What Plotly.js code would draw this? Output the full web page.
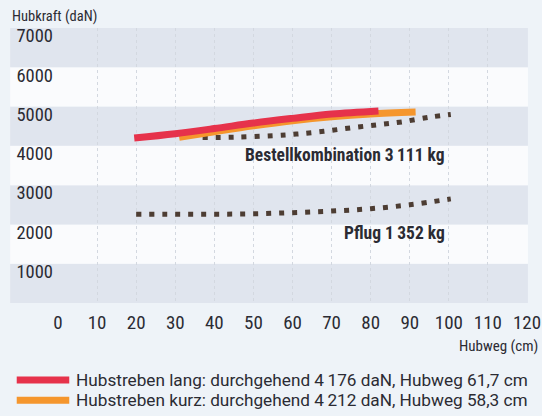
<!DOCTYPE html>
<html><head><meta charset="utf-8">
<script src="https://cdn.plot.ly/plotly-3.0.1.min.js"></script>
<style>html,body{margin:0;padding:0;background:#eef3f8;}</style>
</head><body><div id="chart" style="width:542px;height:416px;"></div>
<script>
// Data
const redX = [19.5, 30, 40, 50, 60, 70, 82];
const redY = [4400, 4510, 4640, 4780, 4900, 5010, 5090];
const orangeX = [31, 40, 50, 60, 70, 80, 91.5];
const orangeY = [4420, 4560, 4710, 4840, 4940, 5010, 5060];
const bestellX = [37, 45, 55, 61, 68, 75, 82, 88, 95, 100.5];
const bestellY = [4410, 4420, 4460, 4500, 4570, 4660, 4740, 4810, 4930, 5000];
const pflugX = [20, 30, 40, 50, 60, 70, 80, 90, 100.5];
const pflugY = [2460, 2460, 2460, 2470, 2500, 2540, 2600, 2700, 2850];
const yTickVals = [1000, 2000, 3000, 4000, 5000, 6000, 7000];
const xTickVals = [0, 10, 20, 30, 40, 50, 60, 70, 80, 90, 100, 110, 120];
const bandStarts = [200, 1200, 2200, 3200, 4200, 5200, 6200];
const legendLabels = [
  "Hubstreben lang: durchgehend 4\u2009176 daN, Hubweg 61,7 cm",
  "Hubstreben kurz: durchgehend 4\u2009212 daN, Hubweg 58,3 cm"
];
const seriesLabels = ["Bestellkombination 3\u2009111 kg", "Pflug 1\u2009352 kg"];

const RED = '#e6324b', ORANGE = '#f5962d', BROWN = '#4d3d33';
const FONT = '"Liberation Sans Narrow", "Roboto Condensed", "Arial Narrow", "Liberation Sans", sans-serif';
const LFONT = 'Roboto, "Liberation Sans", sans-serif';
const TXT = '#2b2b33';

const traces = [
  {x: pflugX, y: pflugY, mode: 'lines', line: {color: BROWN, width: 5, dash: '5px,8px', shape: 'spline'}, showlegend: false, hoverinfo: 'skip'},
  {x: bestellX, y: bestellY, mode: 'lines', line: {color: BROWN, width: 5, dash: '5px,8px', shape: 'spline'}, showlegend: false, hoverinfo: 'skip'},
  {x: orangeX, y: orangeY, mode: 'lines', line: {color: ORANGE, width: 7, shape: 'spline'}, showlegend: false, hoverinfo: 'skip'},
  {x: redX, y: redY, mode: 'lines', line: {color: RED, width: 7, shape: 'spline'}, showlegend: false, hoverinfo: 'skip'}
];

const shapes = bandStarts.map((b, i) => ({
  type: 'rect', xref: 'paper', yref: 'y', x0: -0.102, x1: 1.002, y0: b, y1: b + 1000,
  fillcolor: i % 2 === 0 ? '#e0e5ee' : '#fafbfd', line: {width: 0}, layer: 'below'
}));
const legColors = [RED, ORANGE];
const legY = [-0.28, -0.354];
legColors.forEach((c, i) => shapes.push({
  type: 'line', xref: 'paper', yref: 'paper', x0: -0.088, x1: 0.024, y0: legY[i], y1: legY[i],
  line: {color: c, width: 7}
}));

const annotations = [
  {text: 'Hubkraft (daN)', xref: 'paper', yref: 'paper', x: -0.102, y: 1.043, xanchor: 'left', yanchor: 'middle', showarrow: false, font: {family: FONT, size: 14.5, color: TXT}},
  {text: 'Hubweg (cm)', xref: 'paper', yref: 'paper', x: 1.028, y: -0.158, xanchor: 'right', yanchor: 'middle', showarrow: false, font: {family: FONT, size: 15, color: TXT}},
  {text: '<b>' + seriesLabels[0] + '</b>', xref: 'x', yref: 'y', x: 99.5, y: 3974, xanchor: 'right', yanchor: 'middle', showarrow: false, font: {family: FONT, size: 17.5, color: TXT}},
  {text: '<b>' + seriesLabels[1] + '</b>', xref: 'x', yref: 'y', x: 99.5, y: 1991, xanchor: 'right', yanchor: 'middle', showarrow: false, font: {family: FONT, size: 17.5, color: TXT}}
];
legendLabels.forEach((t, i) => annotations.push({
  text: t, xref: 'paper', yref: 'paper', x: 0.034, y: legY[i], xanchor: 'left', yanchor: 'middle', showarrow: false,
  font: {family: LFONT, size: 17.2, color: TXT}
}));

const layout = {
  width: 542, height: 416,
  margin: {l: 58, r: 15, t: 28, b: 112.6, pad: 0},
  paper_bgcolor: '#eef3f8', plot_bgcolor: 'rgba(0,0,0,0)',
  font: {family: FONT, color: TXT, size: 18},
  xaxis: {range: [0, 120], tickvals: xTickVals, ticks: '', showgrid: true, gridcolor: '#d3d8e0', griddash: 'dot', gridwidth: 1,
    zeroline: false, showline: false, tickfont: {family: FONT, size: 19, color: TXT}, ticklabelstandoff: 6, fixedrange: true},
  yaxis: {range: [200, 7200], tickvals: yTickVals, ticks: '', showgrid: false, zeroline: false, showline: false,
    tickfont: {family: FONT, size: 18.5, color: TXT}, ticklabelstandoff: 4, fixedrange: true},
  shapes: shapes, annotations: annotations, showlegend: false
};
Plotly.newPlot('chart', traces, layout, {displayModeBar: false, staticPlot: true});
</script></body></html>
